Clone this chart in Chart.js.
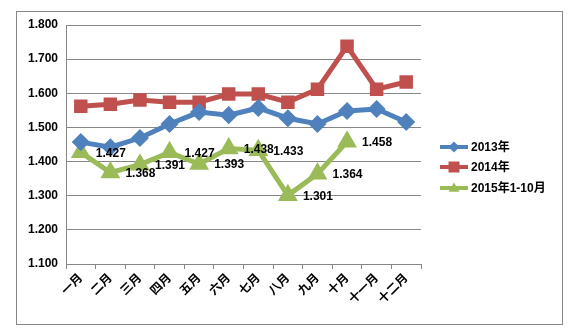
<!DOCTYPE html>
<html>
<head>
<meta charset="utf-8">
<script src="https://cdn.jsdelivr.net/npm/chart.js@4"></script>
<style>
  body { margin: 0; background: #fff; }
  canvas { display: block; }
</style>
</head>
<body>
<canvas id="line_chart" width="573" height="335"></canvas>
<script>
// 데이터
const months = ['一月', '二月', '三月', '四月', '五月', '六月', '七月', '八月', '九月', '十月', '十一月', '十二月'];
const seriesNames = ['2013年', '2014年', '2015年1-10月'];
const y2013 = [1.457, 1.442, 1.469, 1.510, 1.545, 1.536, 1.557, 1.527, 1.510, 1.548, 1.554, 1.516];
const y2014 = [1.562, 1.568, 1.580, 1.574, 1.574, 1.598, 1.598, 1.574, 1.612, 1.738, 1.612, 1.633];
const y2015 = [1.427, 1.368, 1.391, 1.427, 1.393, 1.438, 1.433, 1.301, 1.364, 1.458];
const yMin = 1.1, yMax = 1.8, yStep = 0.1;

const colors = ['#4F81BD', '#C0504D', '#9BBB59'];
const markers = ['rectRot', 'rect', 'triangle'];
const gridColor = '#868686';
const numFont = '"Liberation Sans", Arial, "Noto Sans CJK SC", sans-serif';

// 바깥 테두리
const framePlugin = {
  id: 'frame',
  beforeDraw(chart) {
    const ctx = chart.ctx;
    ctx.save();
    ctx.fillStyle = '#fff';
    ctx.fillRect(0, 0, chart.width, chart.height);
    ctx.strokeStyle = gridColor;
    ctx.lineWidth = 1;
    ctx.strokeRect(16.5, 11.5, 546, 313);
    ctx.restore();
  }
};

// 2015 값 라벨
const valueLabels = {
  id: 'valueLabels',
  afterDatasetsDraw(chart) {
    const ctx = chart.ctx;
    const meta = chart.getDatasetMeta(2);
    ctx.save();
    ctx.font = 'bold 12px ' + numFont;
    ctx.fillStyle = '#000';
    ctx.textAlign = 'left';
    ctx.textBaseline = 'middle';
    meta.data.forEach((pt, i) => {
      ctx.fillText(y2015[i].toFixed(3), pt.x + 15, pt.y + 1);
    });
    ctx.restore();
  }
};

function drawMarker(ctx, style, x, y, r, color) {
  ctx.fillStyle = color;
  ctx.beginPath();
  if (style === 'rectRot') {
    ctx.moveTo(x, y - r); ctx.lineTo(x + r, y); ctx.lineTo(x, y + r); ctx.lineTo(x - r, y);
  } else if (style === 'rect') {
    ctx.rect(x - r, y - r, r * 2, r * 2);
  } else {
    ctx.moveTo(x, y - r); ctx.lineTo(x + r, y + r * 0.7); ctx.lineTo(x - r, y + r * 0.7);
  }
  ctx.closePath();
  ctx.fill();
}

// 오른쪽 범례
const sideLegend = {
  id: 'sideLegend',
  afterDraw(chart) {
    const ctx = chart.ctx;
    const x0 = 440, ys = [147, 167, 188];
    ctx.save();
    seriesNames.forEach((name, i) => {
      ctx.strokeStyle = colors[i];
      ctx.lineWidth = 4;
      ctx.beginPath();
      ctx.moveTo(x0, ys[i]);
      ctx.lineTo(x0 + 28, ys[i]);
      ctx.stroke();
      drawMarker(ctx, markers[i], x0 + 14, ys[i], 5.5, colors[i]);
      ctx.font = 'bold 12px ' + numFont;
      ctx.fillStyle = '#000';
      ctx.textAlign = 'left';
      ctx.textBaseline = 'middle';
      ctx.fillText(name, x0 + 31, ys[i] + 1);
    });
    ctx.restore();
  }
};

function makeSet(label, data, i, radius) {
  return {
    label: label,
    data: data,
    borderColor: colors[i],
    backgroundColor: colors[i],
    pointBackgroundColor: colors[i],
    pointBorderColor: colors[i],
    pointStyle: markers[i],
    pointRadius: radius,
    borderWidth: 5,
    tension: 0,
    fill: false
  };
}

new Chart(document.getElementById('line_chart'), {
  type: 'line',
  data: {
    labels: months,
    datasets: [
      makeSet(seriesNames[0], y2013, 0, 5.5),
      makeSet(seriesNames[1], y2014, 1, 6),
      makeSet(seriesNames[2], y2015, 2, 6.5)
    ]
  },
  options: {
    responsive: false,
    animation: false,
    layout: { padding: { left: 20, top: 25, right: 152, bottom: 11 } },
    scales: {
      x: {
        offset: true,
        afterFit(scale) { scale.height = 60; },
        grid: { offset: true, drawOnChartArea: false, drawTicks: true, tickLength: 5, color: gridColor },
        border: { color: gridColor },
        ticks: {
          autoSkip: false,
          maxRotation: 45,
          minRotation: 45,
          padding: 2,
          color: '#000',
          font: { family: numFont, size: 12, weight: 'bold' }
        }
      },
      y: {
        min: yMin,
        max: yMax,
        afterFit(scale) { scale.width = 46; },
        grid: { drawTicks: false, color: gridColor },
        border: { color: gridColor },
        ticks: {
          stepSize: yStep,
          padding: 8,
          color: '#000',
          font: { family: numFont, size: 12, weight: 'bold' },
          callback: v => v.toFixed(3)
        }
      }
    },
    plugins: {
      legend: { display: false },
      tooltip: { enabled: false }
    }
  },
  plugins: [framePlugin, valueLabels, sideLegend]
});
</script>
</body>
</html>
